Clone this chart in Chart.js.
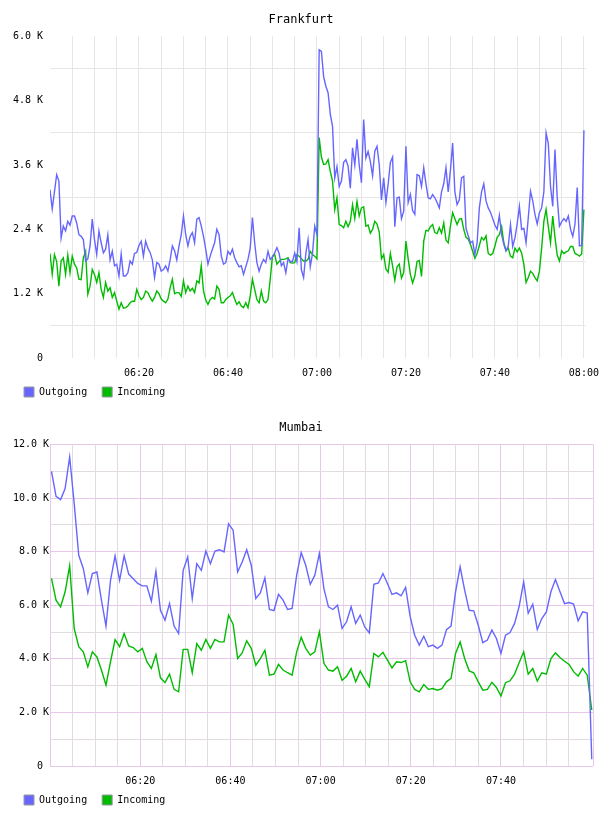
<!DOCTYPE html>
<html>
<head>
<meta charset="utf-8">
<script src="https://cdn.jsdelivr.net/npm/chart.js@4.4.1/dist/chart.umd.min.js"></script>
<style>
  html, body { margin: 0; padding: 0; background: #fff; }
  canvas { display: block; }
</style>
</head>
<body>
<canvas id="frankfurt" width="608" height="408"></canvas>
<canvas id="mumbai" width="608" height="408"></canvas>
<script>
// values in K
const frankfurtStepSec = 30;
const frankfurtOutgoing = [
  3.14, 2.78, 3.1, 3.42, 3.3, 2.24, 2.46, 2.37, 2.55, 2.48, 2.65, 2.65, 2.52, 2.30, 2.27, 2.21, 1.81, 1.85, 2.09, 2.59,
  2.21, 1.93, 2.37, 2.15, 1.96, 2.03, 2.30, 1.83, 1.99, 1.72, 1.75, 1.53, 1.94, 1.53, 1.53, 1.59, 1.81, 1.75, 1.95, 1.97,
  2.10, 2.18, 1.90, 2.18, 2.05, 1.97, 1.83, 1.50, 1.78, 1.75, 1.62, 1.65, 1.72, 1.62, 1.83, 2.09, 2.00, 1.83, 2.09, 2.30,
  2.65, 2.30, 2.09, 2.27, 2.34, 2.15, 2.59, 2.62, 2.46, 2.27, 2.03, 1.75, 1.90, 2.03, 2.15, 2.40, 2.30, 1.90, 1.75, 1.78,
  1.99, 1.93, 2.03, 1.87, 1.78, 1.70, 1.72, 1.56, 1.70, 1.84, 2.05, 2.62, 2.15, 1.78, 1.62, 1.75, 1.84, 1.78, 1.99, 1.84,
  1.88, 1.96, 2.06, 1.95, 1.72, 1.78, 1.59, 1.85, 1.80, 1.80, 1.96, 1.80, 2.43, 1.65, 1.50, 1.95, 2.21, 1.70, 1.95, 2.46,
  2.30, 5.75, 5.72, 5.25, 5.07, 4.95, 4.55, 4.32, 3.36, 3.57, 3.20, 3.30, 3.65, 3.70, 3.58, 3.17, 3.92, 3.60, 4.08, 3.60,
  3.27, 4.45, 3.73, 3.85, 3.67, 3.40, 3.86, 3.95, 3.61, 2.95, 3.36, 2.90, 3.24, 3.65, 3.75, 2.45, 2.99, 3.00, 2.60, 2.74,
  3.95, 2.90, 3.05, 2.75, 2.68, 3.42, 3.40, 3.20, 3.55, 3.25, 2.99, 2.97, 3.05, 2.99, 2.90, 2.80, 3.10, 3.25, 3.55, 3.10,
  3.50, 4.01, 3.10, 2.86, 2.95, 3.36, 3.39, 2.42, 2.28, 2.15, 2.18, 1.93, 2.15, 2.80, 3.10, 3.25, 2.93, 2.80, 2.72, 2.60,
  2.48, 2.40, 2.66, 2.30, 2.12, 2.00, 2.09, 2.49, 2.08, 2.24, 2.50, 2.83, 2.40, 2.42, 2.15, 2.62, 3.11, 2.93, 2.68, 2.50,
  2.71, 2.80, 3.10, 4.20, 4.00, 3.20, 2.83, 3.89, 3.00, 2.46, 2.54, 2.60, 2.55, 2.65, 2.40, 2.27, 2.50, 3.18, 2.09, 2.10,
  4.25
];
const frankfurtIncoming = [
  1.95, 1.56, 1.93, 1.80, 1.34, 1.81, 1.87, 1.56, 1.92, 1.59, 1.90, 1.75, 1.68, 1.47, 1.46, 1.87, 1.99, 1.19, 1.34, 1.65,
  1.56, 1.41, 1.59, 1.28, 1.13, 1.41, 1.25, 1.31, 1.13, 1.22, 1.06, 0.91, 1.03, 0.93, 0.94, 0.97, 1.03, 1.06, 1.06, 1.28,
  1.16, 1.09, 1.13, 1.25, 1.22, 1.13, 1.06, 1.13, 1.25, 1.20, 1.10, 1.06, 1.03, 1.10, 1.31, 1.47, 1.20, 1.22, 1.22, 1.15,
  1.44, 1.22, 1.34, 1.25, 1.30, 1.22, 1.44, 1.40, 1.72, 1.25, 1.08, 1.00, 1.09, 1.13, 1.10, 1.34, 1.28, 1.03, 1.03, 1.09,
  1.13, 1.16, 1.22, 1.10, 1.00, 1.05, 0.97, 0.94, 1.03, 0.94, 1.16, 1.47, 1.28, 1.09, 1.03, 1.25, 1.06, 1.03, 1.09, 1.47,
  1.90, 1.93, 1.75, 1.80, 1.84, 1.84, 1.85, 1.87, 1.78, 1.77, 1.78, 1.93, 1.90, 1.85, 1.81, 1.81, 1.84, 1.99, 1.93, 1.90,
  1.85, 4.11, 3.75, 3.61, 3.62, 3.70, 3.48, 3.30, 2.77, 2.99, 2.49, 2.47, 2.43, 2.55, 2.45, 2.55, 2.86, 2.60, 2.92, 2.65,
  2.80, 2.82, 2.46, 2.48, 2.33, 2.40, 2.55, 2.50, 2.35, 1.85, 1.93, 1.66, 1.60, 1.95, 1.72, 1.45, 1.70, 1.75, 1.49, 1.60,
  2.18, 1.85, 1.56, 1.40, 1.53, 1.80, 1.82, 1.52, 2.18, 2.38, 2.37, 2.45, 2.49, 2.34, 2.32, 2.43, 2.33, 2.52, 2.20, 2.15,
  2.46, 2.71, 2.60, 2.49, 2.59, 2.60, 2.40, 2.25, 2.22, 2.12, 1.99, 1.86, 1.95, 2.10, 2.25, 2.20, 2.28, 1.95, 1.92, 1.95,
  2.09, 2.25, 2.30, 2.45, 2.15, 2.00, 2.05, 1.90, 1.87, 2.05, 1.98, 2.05, 1.96, 1.75, 1.41, 1.50, 1.62, 1.58, 1.50, 1.44,
  1.62, 2.05, 2.55, 2.77, 2.45, 2.15, 2.65, 2.25, 1.92, 1.81, 2.00, 1.95, 1.98, 2.00, 2.08, 2.08, 1.95, 1.93, 1.90, 1.94,
  2.77
];

const mumbaiStartSec = 20;
const mumbaiStepSec = 60.4;
const mumbaiOutgoing = [
  10.99, 10.06, 9.94, 10.35, 11.53, 9.79, 7.86, 7.37, 6.46, 7.18, 7.24, 6.19, 5.22, 6.93, 7.84, 6.93, 7.84, 7.16, 6.99, 6.81,
  6.72, 6.72, 6.15, 7.27, 5.81, 5.44, 6.06, 5.22, 4.94, 7.30, 7.80, 6.25, 7.55, 7.30, 8.02, 7.55, 8.02, 8.07, 7.99, 9.04,
  8.80, 7.24, 7.61, 8.07, 7.49, 6.25, 6.46, 7.02, 5.84, 5.80, 6.41, 6.19, 5.84, 5.88, 7.12, 7.96, 7.49, 6.78, 7.12, 7.93,
  6.62, 5.94, 5.84, 6.00, 5.13, 5.38, 5.94, 5.32, 5.63, 5.19, 4.97, 6.78, 6.83, 7.18, 6.81, 6.40, 6.46, 6.35, 6.66, 5.57,
  4.88, 4.51, 4.84, 4.45, 4.51, 4.39, 4.51, 5.09, 5.22, 6.50, 7.43, 6.56, 5.81, 5.79, 5.25, 4.60, 4.70, 5.07, 4.76, 4.20,
  4.88, 4.98, 5.32, 5.95, 6.87, 5.70, 6.04, 5.09, 5.50, 5.75, 6.50, 6.96, 6.50, 6.06, 6.10, 6.04, 5.42, 5.75, 5.71, 0.25
];
const mumbaiIncoming = [
  7.00, 6.19, 5.94, 6.50, 7.47, 5.13, 4.45, 4.26, 3.70, 4.26, 4.07, 3.58, 3.02, 3.89, 4.72, 4.45, 4.94, 4.48, 4.42, 4.26,
  4.39, 3.89, 3.64, 4.16, 3.29, 3.11, 3.43, 2.86, 2.77, 4.35, 4.35, 3.48, 4.57, 4.32, 4.72, 4.39, 4.72, 4.63, 4.63, 5.63,
  5.29, 4.01, 4.22, 4.67, 4.39, 3.76, 4.01, 4.32, 3.39, 3.43, 3.79, 3.58, 3.48, 3.39, 4.26, 4.80, 4.39, 4.14, 4.26, 5.01,
  3.83, 3.58, 3.54, 3.70, 3.20, 3.35, 3.64, 3.14, 3.54, 3.23, 2.96, 4.20, 4.07, 4.24, 3.95, 3.66, 3.89, 3.86, 3.93, 3.14,
  2.86, 2.77, 3.04, 2.86, 2.89, 2.83, 2.89, 3.14, 3.27, 4.20, 4.63, 4.01, 3.55, 3.48, 3.14, 2.83, 2.86, 3.12, 2.93, 2.61,
  3.11, 3.18, 3.43, 3.85, 4.26, 3.43, 3.64, 3.17, 3.48, 3.43, 4.01, 4.22, 4.05, 3.91, 3.79, 3.52, 3.35, 3.64, 3.39, 2.09
];

const seriesNames = ['Outgoing', 'Incoming'];
const seriesColors = ['#6666ff', '#00bb00'];

const monoFont = "'DejaVu Sans Mono', monospace";

function hhmm(min) {
  const h = 6 + Math.floor(min / 60);
  const m = Math.round(min % 60);
  return String(h).padStart(2, '0') + ':' + String(m).padStart(2, '0');
}

function toPoints(values, startSec, stepSec) {
  return values.map((v, i) => ({ x: (startSec + i * stepSec) / 60, y: v }));
}

// the x scale box is kept short so the legend sits close under it;
// widen its clip box afterwards so the time labels are not cut off
const labelRoom = {
  id: 'labelRoom',
  afterLayout(chart) {
    const x = chart.scales.x;
    x.bottom = x.top + 26;
  },
};

function makeChart(id, title, outgoing, incoming, startSec, stepSec, style) {
  const ctx = document.getElementById(id);
  return new Chart(ctx, {
    type: 'line',
    data: {
      datasets: [outgoing, incoming].map((vals, k) => ({
        label: seriesNames[k],
        data: toPoints(vals, startSec, stepSec),
        borderColor: seriesColors[k],
        backgroundColor: seriesColors[k],
        borderWidth: 1.4,
        pointRadius: 0,
        tension: 0,
        fill: false,
      })),
    },
    plugins: [labelRoom],
    options: {
      responsive: false,
      animation: false,
      layout: { padding: { left: 9, right: 15, top: 0, bottom: 1 } },
      plugins: {
        title: {
          display: true,
          text: title,
          color: '#000',
          font: { family: monoFont, size: 12, weight: 'normal' },
          padding: { top: 13, bottom: 9 },
        },
        legend: {
          position: 'bottom',
          align: 'start',
          labels: {
            boxWidth: 10,
            boxHeight: 10,
            padding: 15,
            color: '#000',
            font: { family: monoFont, size: 10 },
            generateLabels(chart) {
              return chart.data.datasets.map((ds, i) => ({
                text: ds.label,
                fillStyle: ds.borderColor,
                strokeStyle: '#999',
                lineWidth: 1,
                datasetIndex: i,
                hidden: false,
              }));
            },
          },
        },
        tooltip: { enabled: false },
      },
      scales: {
        x: {
          type: 'linear',
          min: 0,
          max: 120.4,
          afterFit(scale) { scale.height = 14; },
          border: { display: false },
          grid: {
            drawTicks: false,
            color: style.xGrid,
          },
          ticks: {
            stepSize: 5,
            includeBounds: style.xBounds,
            maxRotation: 0,
            autoSkip: false,
            padding: 9,
            color: '#000',
            font: { family: monoFont, size: 10 },
            callback(v) {
              if (v > 0 && v % 20 === 0 && style.xLabel(v)) return hhmm(v);
              return '';
            },
          },
        },
        y: {
          min: 0,
          max: style.yMax,
          afterFit(scale) { scale.width = 41; },
          border: { display: false },
          grid: {
            drawTicks: false,
            color: style.yGrid,
          },
          ticks: {
            stepSize: style.yStep,
            autoSkip: false,
            padding: style.yPad,
            color: '#000',
            font: { family: monoFont, size: 10 },
            callback: style.yLabel,
          },
        },
      },
    },
  });
}

// Frankfurt: faint grid between labelled values, no frame
makeChart('frankfurt', 'Frankfurt', frankfurtOutgoing, frankfurtIncoming, 0, frankfurtStepSec, {
  yMax: 6,
  yStep: 0.6,
  yPad: 7,
  xBounds: false,
  xLabel: () => true,
  yLabel(v) {
    const n = Math.round(v / 0.6);
    if (n % 2) return '';
    return n === 0 ? '0' : v.toFixed(1) + ' K';
  },
  yGrid(c) { return c.index % 2 ? '#e6e6e6' : 'rgba(0,0,0,0)'; },
  xGrid(c) { return c.tick && c.tick.value === 0 ? 'rgba(0,0,0,0)' : '#e6e6e6'; },
});

// Mumbai: pink major lines and frame, grey minor lines
makeChart('mumbai', 'Mumbai', mumbaiOutgoing, mumbaiIncoming, mumbaiStartSec, mumbaiStepSec, {
  yMax: 12,
  yStep: 1,
  yPad: 1,
  xBounds: true,
  xLabel: v => v < 120,
  yLabel(v) {
    const n = Math.round(v);
    if (n % 2) return '';
    return n === 0 ? '0 ' : n.toFixed(1) + ' K';
  },
  yGrid(c) { return Math.round(c.tick.value) % 2 ? '#e2dce2' : '#e8c8e8'; },
  xGrid(c) {
    const v = c.tick ? c.tick.value : 0;
    if (v === 120) return 'rgba(0,0,0,0)';
    if (v % 20 === 0 || v % 5 !== 0) return '#e8c8e8';
    return '#e2dce2';
  },
});
</script>
</body>
</html>
